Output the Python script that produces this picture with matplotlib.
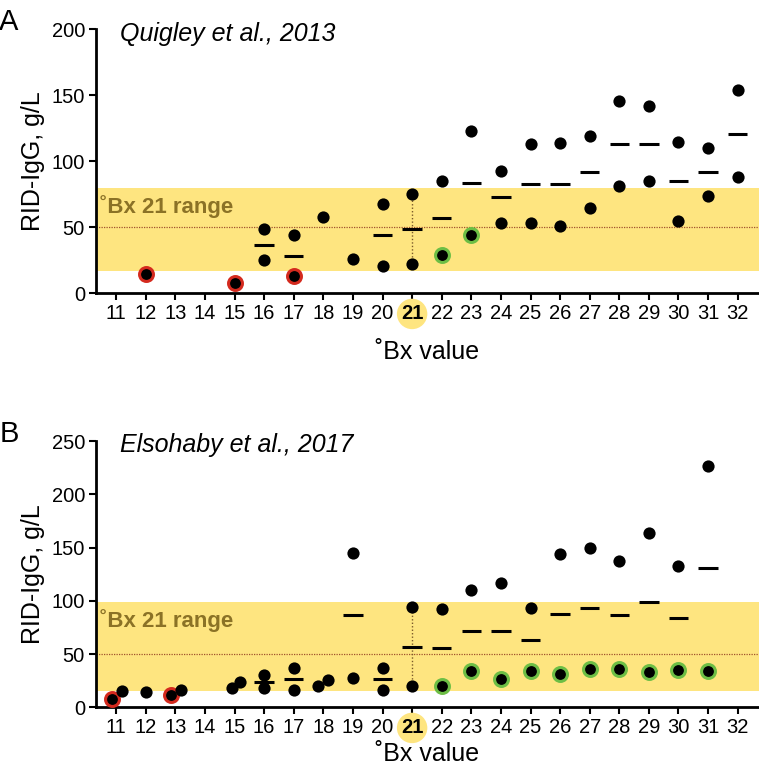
import numpy as np
import matplotlib.pyplot as plt

plt.rcParams['font.family'] = ['Liberation Sans', 'DejaVu Sans']

# ---- Panel A: Quigley et al., 2013 ----
a_bx = [12, 15, 16, 16, 17, 17, 18, 19, 20, 20, 21, 21, 22, 22, 23, 23,
        24, 24, 25, 25, 26, 26, 27, 27, 28, 28, 29, 29, 30, 30, 31, 31, 32, 32]
a_igg = [15, 8, 49, 25, 44, 13, 58, 26, 68, 21, 75, 22, 85, 29, 123, 44,
         93, 53, 113, 53, 114, 51, 119, 65, 146, 81, 142, 85, 115, 55, 110, 74, 154, 88]
a_flag = ['r', 'r', 'k', 'k', 'k', 'r', 'k', 'k', 'k', 'k', 'k', 'k', 'k', 'g', 'k', 'g',
          'k', 'k', 'k', 'k', 'k', 'k', 'k', 'k', 'k', 'k', 'k', 'k', 'k', 'k', 'k', 'k', 'k', 'k']
a_jit = [0] * len(a_bx)
a_mean_groups = [16, 17, 20, 21, 22, 23, 24, 25, 26, 27, 28, 29, 30, 31, 32]
a_range = (17, 80)

# ---- Panel B: Elsohaby et al., 2017 ----
b_bx = [11, 11, 12, 13, 13, 15, 15, 16, 16, 17, 17, 18, 18, 19, 19, 20, 20, 21, 21,
        22, 22, 23, 23, 24, 24, 25, 25, 26, 26, 27, 27, 28, 28, 29, 29, 30, 30, 31, 31]
b_igg = [8, 15, 14, 11.5, 16, 18, 24, 30, 18, 37, 16, 20, 25.5, 145, 28, 37, 16, 94, 20,
         92, 20, 110, 34, 117, 27, 93, 34, 144, 31, 150, 36, 137, 36, 164, 33, 133, 35, 227, 34]
b_flag = ['r', 'k', 'k', 'r', 'k', 'k', 'k', 'k', 'k', 'k', 'k', 'k', 'k', 'k', 'k', 'k', 'k', 'k', 'k',
          'k', 'g', 'k', 'g', 'k', 'g', 'k', 'g', 'k', 'g', 'k', 'g', 'k', 'g', 'k', 'g', 'k', 'g', 'k', 'g']
b_jit = [-0.13, 0.19, 0, -0.14, 0.19, -0.1, 0.19, 0, 0, 0, 0, -0.17, 0.17, 0, 0, 0, 0, 0, 0,
         0, 0, 0, 0, 0, 0, 0, 0, 0, 0, 0, 0, 0, 0, 0, 0, 0, 0, 0, 0]
b_mean_groups = [16, 17, 19, 20, 21, 22, 23, 24, 25, 26, 27, 28, 29, 30, 31]
b_range = (15, 99)

ticks = list(range(11, 33))
band_col = '#FEE580'
text_col = '#8B7226'
edge_cols = {'r': '#D42A1E', 'g': '#6DBE45', 'k': 'black'}


def draw_panel(ax, bx, igg, flag, jit, mean_groups, rng, ymax, title, letter, xpad):
    bx = np.array(bx)
    igg = np.array(igg, dtype=float)
    ax.axhspan(rng[0], rng[1], color=band_col, zorder=0, lw=0)
    ax.axhline(50, color='#A0522D', lw=0.9, ls=(0, (1, 1)), zorder=1)
    sel = igg[bx == 21]
    ax.plot([21, 21], [sel.min(), sel.max()], color='#7a5a2a', lw=1.0,
            ls=(0, (1, 1.5)), zorder=1)
    ax.text(10.45, rng[1] - 0.07 * ymax, '\u02daBx 21 range', color=text_col,
            fontsize=16, fontweight='bold', va='center', ha='left')

    for g in mean_groups:
        m = igg[bx == g].mean()
        ax.plot([g - 0.33, g + 0.33], [m, m], color='black', lw=2.2,
                solid_capstyle='butt', zorder=2)

    for x, y, f, j in zip(bx, igg, flag, jit):
        if f == 'k':
            ax.plot(x + j, y, 'o', color='black', ms=8.8, mew=0, zorder=3)
        else:
            ax.plot(x + j, y, 'o', mfc='black', mec=edge_cols[f], ms=10, mew=2.2,
                    zorder=3)

    ax.set_xlim(10.32, 32.72)
    ax.set_ylim(0, ymax)
    ax.set_xticks(ticks)
    ax.set_xticklabels([str(t) for t in ticks])
    ax.set_yticks(np.arange(0, ymax + 1, 50))
    ax.tick_params(axis='both', direction='out', length=5, width=1.5,
                   labelsize=14.5, pad=3)
    for s in ['top', 'right']:
        ax.spines[s].set_visible(False)
    for s in ['left', 'bottom']:
        ax.spines[s].set_linewidth(2)
    for lab in ax.get_xticklabels():
        if lab.get_text() == '21':
            lab.set_fontweight('bold')
            lab.set_bbox(dict(boxstyle='circle,pad=0.2', fc=band_col, ec='none'))
    ax.set_ylabel('RID-IgG, g/L', fontsize=18, labelpad=5)
    ax.set_xlabel('\u02daBx value', fontsize=18, labelpad=xpad)
    ax.text(0.036, 1.03, title, transform=ax.transAxes, fontsize=18,
            style='italic', va='top', ha='left')
    ax.text(-0.146, 1.08, letter, transform=ax.transAxes, fontsize=21,
            va='top', ha='left')


fig = plt.figure(figsize=(7.59, 7.76), dpi=100)
ax1 = fig.add_axes([0.1265, 0.622, 0.8735, 0.340])
ax2 = fig.add_axes([0.1265, 0.0885, 0.8735, 0.343])

draw_panel(ax1, a_bx, a_igg, a_flag, a_jit, a_mean_groups, a_range, 200,
           'Quigley et al., 2013', 'A', 12)
draw_panel(ax2, b_bx, b_igg, b_flag, b_jit, b_mean_groups, b_range, 250,
           'Elsohaby et al., 2017', 'B', 3)

fig.savefig('out.png', dpi=100)
